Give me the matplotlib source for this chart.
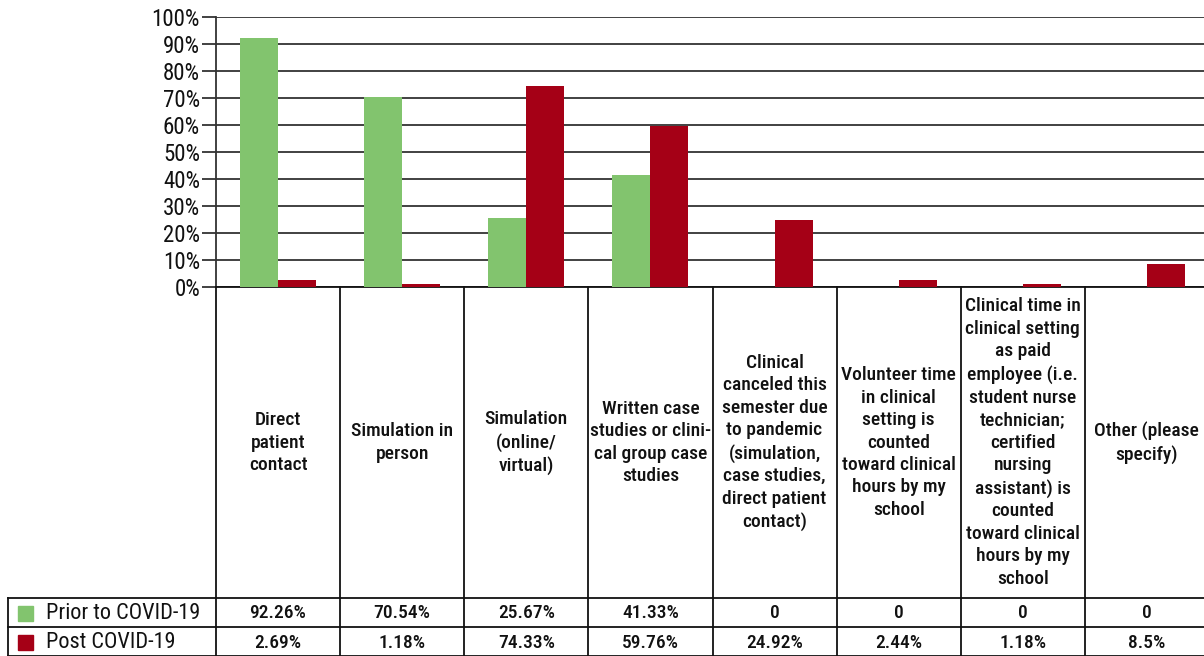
import numpy as np
import matplotlib
matplotlib.use("Agg")
import matplotlib.pyplot as plt
from matplotlib import font_manager as fm

# condensed face like the original; fall back to DejaVu Sans Condensed
have = set(f.name for f in fm.fontManager.ttflist)
if "Roboto Condensed" in have:
    plt.rcParams['font.family'] = ['Roboto Condensed', 'DejaVu Sans']
else:
    plt.rcParams['font.family'] = ['DejaVu Sans']
    plt.rcParams['font.stretch'] = 'condensed'

categories = ["Direct\npatient\ncontact",
              "Simulation in\nperson",
              "Simulation\n(online/\nvirtual)",
              "Written case\nstudies or clini-\ncal group case\nstudies",
              "Clinical\ncanceled this\nsemester due\nto pandemic\n(simulation,\ncase studies,\ndirect patient\ncontact)",
              "Volunteer time\nin clinical\nsetting is\ncounted\ntoward clinical\nhours by my\nschool",
              "Clinical time in\nclinical setting\nas paid\nemployee (i.e.\nstudent nurse\ntechnician;\ncertified\nnursing\nassistant) is\ncounted\ntoward clinical\nhours by my\nschool",
              "Other (please\nspecify)"]
series_names = ["Prior to COVID-19", "Post COVID-19"]
prior = [92.26, 70.54, 25.67, 41.33, 0, 0, 0, 0]
post = [2.69, 1.18, 74.33, 59.76, 24.92, 2.44, 1.18, 8.5]
colors = ["#82c46e", "#a50016"]
yticks = [0, 10, 20, 30, 40, 50, 60, 70, 80, 90, 100]

W, H = 1204, 656
fig = plt.figure(figsize=(W / 100, H / 100), dpi=100)

# pixel layout
x0, x1 = 216, 1209
ytop, ybot = 17, 287
row1, row2 = 598, 627
ncat = len(categories)
cw = (x1 - x0) / ncat

ax = fig.add_axes([x0 / W, (H - ybot) / H, (x1 - x0) / W, (ybot - ytop) / H])
x = np.arange(ncat)
bw = 0.306
ax.bar(x - bw / 2, prior, bw, color=colors[0], zorder=3)
ax.bar(x + bw / 2, post, bw, color=colors[1], zorder=3)
ax.set_xlim(-0.5, ncat - 0.5)
ax.set_ylim(0, 100)
ax.set_yticks(yticks)
ax.set_yticklabels([f"{t}%" for t in yticks], fontsize=16.5, color="#111111")
ax.set_xticks([])
ax.yaxis.grid(True, color="#333333", lw=1.3, zorder=1)
ax.tick_params(axis="y", length=10, width=1.3, color="#333333", pad=1.5)
for s in ["top", "right"]:
    ax.spines[s].set_visible(False)
ax.spines["left"].set_color("#333333")
ax.spines["left"].set_linewidth(1.3)
ax.spines["bottom"].set_color("#111111")
ax.spines["bottom"].set_linewidth(1.3)

# table overlay in pixel coords
tb = fig.add_axes([0, 0, 1, 1])
tb.set_xlim(0, W)
tb.set_ylim(H, 0)
tb.axis("off")
tb.patch.set_alpha(0)
lc = "#111111"
lw = 1.3
for i in range(ncat + 1):
    xb = x0 + i * cw
    tb.plot([xb, xb], [ybot, H], color=lc, lw=lw)
tb.plot([8, 8], [row1, H], color=lc, lw=lw)
tb.plot([8, W], [row1, row1], color=lc, lw=lw)
tb.plot([8, W], [row2, row2], color=lc, lw=lw)
tb.plot([8, W], [H - 0.5, H - 0.5], color=lc, lw=lw)

for i, lab in enumerate(categories):
    xc = x0 + (i + 0.5) * cw
    tb.text(xc, (ybot + row1) / 2, lab, ha="center", va="center",
            fontsize=14, fontweight=500, linespacing=1.32, color="#111111")
    for vals, yr in [(prior, (row1 + row2) / 2), (post, (row2 + H) / 2)]:
        v = vals[i]
        s = f"{v:g}%" if v else "0"
        tb.text(xc, yr + 1, s, ha="center", va="center", fontsize=14,
                fontweight=500, color="#111111")

for name, c, yr in zip(series_names, colors, [(row1 + row2) / 2, (row2 + H) / 2]):
    tb.add_patch(plt.Rectangle((18, yr - 7), 15, 15, color=c))
    tb.text(46, yr + 1, name, ha="left", va="center", fontsize=16, color="#111111")

fig.savefig("out.png", dpi=100)
